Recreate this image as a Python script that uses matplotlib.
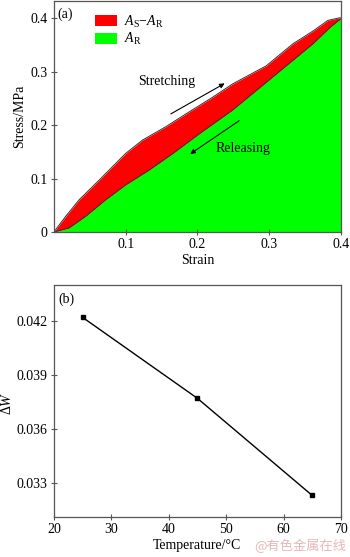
import matplotlib
matplotlib.use('Agg')
import matplotlib.pyplot as plt
import numpy as np

plt.rcParams['font.family'] = ['Liberation Serif', 'DejaVu Serif']
plt.rcParams['mathtext.fontset'] = 'custom'
plt.rcParams['mathtext.rm'] = 'Liberation Serif'
plt.rcParams['mathtext.it'] = 'Liberation Serif:italic'

# ---- (a) stress-strain loop ----
strain_up = [0, 0.0163, 0.035, 0.063, 0.1, 0.1235, 0.156, 0.184, 0.221, 0.249,
             0.296, 0.333, 0.361, 0.382, 0.399]
stress_up = [0, 0.029, 0.060, 0.097, 0.147, 0.172, 0.197, 0.221, 0.252, 0.277,
             0.311, 0.352, 0.376, 0.396, 0.401]
strain_down = [0, 0.021, 0.044, 0.072, 0.1, 0.133, 0.166, 0.203, 0.249, 0.296,
               0.333, 0.361, 0.385, 0.399]
stress_down = [0, 0.0074, 0.029, 0.060, 0.088, 0.116, 0.147, 0.184, 0.228, 0.280,
               0.321, 0.352, 0.383, 0.398]

# ---- (b) energy loss vs temperature ----
temperature = [25, 45, 65]
delta_w = [0.0422, 0.0377, 0.0323]

spine_col = '#555555'

fig = plt.figure(figsize=(3.5, 5.57), dpi=100)
ax1 = fig.add_axes([0.154, 0.5835, 0.82, 0.4145])
ax2 = fig.add_axes([0.154, 0.0718, 0.82, 0.4165])

# upper panel
xs = np.linspace(0, 0.4, 400)
up = np.interp(xs, strain_up, stress_up)
down = np.interp(xs, strain_down, stress_down)
ax1.fill_between(xs, 0, down, color='#00ff00', lw=0, label=r'$A_\mathrm{R}$')
ax1.fill_between(xs, down, up, color='#ff0000', lw=0,
                 label=r'$A_\mathrm{S}$$-$$A_\mathrm{R}$')
ax1.plot(strain_up, stress_up, color='#333333', lw=0.7)
ax1.plot(strain_down, stress_down, color='#333333', lw=0.7)
ax1.set_xlim(0, 0.4)
ax1.set_ylim(0, 0.432)
ax1.set_xticks([0.1, 0.2, 0.3, 0.4])
ax1.set_xticklabels(['0.1', '0.2', '0.3', '0.4'])
ax1.set_yticks([0, 0.1, 0.2, 0.3, 0.4])
ax1.set_yticklabels(['0', '0.1', '0.2', '0.3', '0.4'])
ax1.set_xlabel('Strain', fontsize=10, labelpad=2)
ax1.set_ylabel('Stress/MPa', fontsize=10)
ax1.yaxis.set_label_coords(-0.097, 0.5)
ax1.text(0.005, 0.407, '(a)', fontsize=10, va='center')
h, l = ax1.get_legend_handles_labels()
ax1.legend(h[::-1], l[::-1], loc='upper left', bbox_to_anchor=(0.1, 1.0),
           frameon=False, fontsize=10, handlelength=1.6, handleheight=0.8,
           labelspacing=0.1, handletextpad=0.5)
ax1.text(0.117, 0.282, 'Stretching', fontsize=10, va='center')
ax1.annotate('', xy=(0.238, 0.278), xytext=(0.163, 0.221),
             arrowprops=dict(arrowstyle='-|>', color='black', lw=0.8,
                             mutation_scale=7, shrinkA=0, shrinkB=0))
ax1.text(0.225, 0.156, 'Releasing', fontsize=10, va='center')
ax1.annotate('', xy=(0.190, 0.146), xytext=(0.258, 0.208),
             arrowprops=dict(arrowstyle='-|>', color='black', lw=0.8,
                             mutation_scale=7, shrinkA=0, shrinkB=0))

# lower panel
ax2.plot(temperature, delta_w, color='black', lw=1.0, marker='s', ms=3.2)
ax2.set_xlim(20, 70)
ax2.set_ylim(0.0311, 0.0440)
ax2.set_xticks([20, 30, 40, 50, 60, 70])
ax2.set_yticks([0.033, 0.036, 0.039, 0.042])
ax2.set_yticklabels(['0.033', '0.036', '0.039', '0.042'])
ax2.set_xlabel('Temperature/°C', fontsize=10, labelpad=2)
ax2.set_ylabel(r'$\Delta W$', fontsize=10)
ax2.yaxis.set_label_coords(-0.138, 0.49)
ax2.text(20.8, 0.0432, '(b)', fontsize=10, va='center')

for ax in (ax1, ax2):
    for s in ax.spines.values():
        s.set_color(spine_col)
        s.set_linewidth(0.9)
    ax.tick_params(direction='inout', length=5, width=0.8, color=spine_col,
                   labelsize=10, pad=2)

fig.text(0.988, 0.008, '@有色金属在线', fontsize=9.5, color='#e6b8b8',
         ha='right', va='bottom', family=['Noto Sans CJK SC', 'DejaVu Sans'])

fig.savefig('out.png', dpi=100)
